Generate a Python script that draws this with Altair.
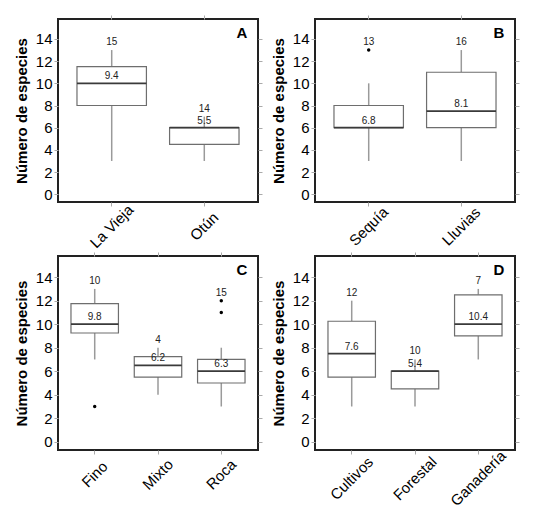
import altair as alt
import pandas as pd

FUENTE = "Liberation Sans"

# Panel A: cuenca
cuenca = ["La Vieja", "Otún"]
cuenca_min = [3, 3]
cuenca_q1 = [8, 4.5]
cuenca_mediana = [10, 6]
cuenca_q3 = [11.5, 6]
cuenca_max = [13, 7]
cuenca_media = [9.4, 5.5]
cuenca_n = [15, 14]
cuenca_atipicos = []

# Panel B: época
epoca = ["Sequía", "Lluvias"]
epoca_min = [3, 3]
epoca_q1 = [6, 6]
epoca_mediana = [6, 7.5]
epoca_q3 = [8, 11]
epoca_max = [10, 13]
epoca_media = [6.8, 8.1]
epoca_n = [13, 16]
epoca_atipicos = [("Sequía", 13)]

# Panel C: sustrato
sustrato = ["Fino", "Mixto", "Roca"]
sustrato_min = [7, 4, 3]
sustrato_q1 = [9.25, 5.5, 5]
sustrato_mediana = [10, 6.5, 6]
sustrato_q3 = [11.75, 7.25, 7]
sustrato_max = [13, 8, 8]
sustrato_media = [9.8, 6.2, 6.3]
sustrato_n = [10, 4, 15]
sustrato_atipicos = [("Fino", 3), ("Roca", 11), ("Roca", 12)]

# Panel D: uso del suelo
uso = ["Cultivos", "Forestal", "Ganadería"]
uso_min = [3, 3, 7]
uso_q1 = [5.5, 4.5, 9]
uso_mediana = [7.5, 6, 10]
uso_q3 = [10.25, 6, 12.5]
uso_max = [12, 7, 13]
uso_media = [7.6, 5.4, 10.4]
uso_n = [12, 10, 7]
uso_atipicos = []

y_ticks = [0, 2, 4, 6, 8, 10, 12, 14]


def panel(grupos, vmin, q1, med, q3, vmax, media, n, atipicos, letra, ancho, alto, pad_etiq):
    # posición del número de casos: encima del bigote o del atípico más alto
    tope = [max([v] + [o for g, o in atipicos if g == gr]) for gr, v in zip(grupos, vmax)]
    df = pd.DataFrame({
        "grupo": grupos, "min": vmin, "q1": q1, "mediana": med, "q3": q3,
        "max": vmax, "media": [f"{m:.1f}" for m in media], "n": n, "tope": tope,
    })
    df_atip = pd.DataFrame({"grupo": [g for g, _ in atipicos], "valor": [v for _, v in atipicos]})

    escala_x = alt.Scale(type="band", domain=grupos, paddingInner=0, paddingOuter=0.08)
    escala_y = alt.Scale(domain=[-0.7, 15.8], nice=False, zero=False)

    eje_x = alt.Axis(title=None, labelAngle=-45, labelAlign="center", labelBaseline="middle",
                     labelPadding=pad_etiq, domain=False, grid=False)
    eje_y = alt.Axis(title="Número de especies", values=y_ticks, domain=False, grid=False)
    eje_x_sup = alt.Axis(orient="top", title=None, labels=False, domain=False, grid=False)
    eje_y_der = alt.Axis(orient="right", title=None, labels=False, values=y_ticks,
                         domain=False, grid=False)

    base = alt.Chart(df)

    bigote_inf = base.mark_rule(color="#9a9a9a", strokeWidth=1.5).encode(
        x=alt.X("grupo:N", scale=escala_x, axis=eje_x),
        y=alt.Y("min:Q", scale=escala_y, axis=eje_y),
        y2="q1:Q",
    )
    bigote_sup = base.mark_rule(color="#9a9a9a", strokeWidth=1.5).encode(
        x=alt.X("grupo:N", scale=escala_x, axis=None),
        y=alt.Y("q3:Q", scale=escala_y, axis=None),
        y2="max:Q",
    )
    caja = base.mark_bar(width=alt.RelativeBandSize(0.75), fill="white",
                         stroke="#6e6e6e", strokeWidth=1.2).encode(
        x=alt.X("grupo:N", scale=escala_x, axis=eje_x_sup),
        y=alt.Y("q1:Q", scale=escala_y, axis=eje_y_der),
        y2="q3:Q",
    )
    mediana = base.mark_bar(width=alt.RelativeBandSize(0.75), fill="white", fillOpacity=0,
                            stroke="#3a3a3a", strokeWidth=1.8).encode(
        x=alt.X("grupo:N", scale=escala_x, axis=None),
        y=alt.Y("mediana:Q", scale=escala_y, axis=None),
        y2="mediana:Q",
    )
    txt_media = base.mark_text(fontSize=10, font=FUENTE, color="#222", baseline="bottom", dy=-2).encode(
        x=alt.X("grupo:N", scale=escala_x, axis=None),
        y=alt.Y("mediana:Q", scale=escala_y, axis=None),
        text="media:N",
    )
    txt_n = base.mark_text(fontSize=10, font=FUENTE, color="#222", baseline="bottom", dy=-3).encode(
        x=alt.X("grupo:N", scale=escala_x, axis=None),
        y=alt.Y("tope:Q", scale=escala_y, axis=None),
        text="n:Q",
    )
    capas = [bigote_inf, bigote_sup, caja, mediana, txt_media, txt_n]

    if len(df_atip):
        puntos = alt.Chart(df_atip).mark_circle(size=12, color="black", opacity=1).encode(
            x=alt.X("grupo:N", scale=escala_x, axis=None),
            y=alt.Y("valor:Q", scale=escala_y, axis=None),
        )
        capas.append(puntos)

    df_letra = pd.DataFrame({"letra": [letra]})
    etiqueta = alt.Chart(df_letra).mark_text(fontSize=15, fontWeight="bold", font=FUENTE,
                                             color="black", align="center", baseline="middle").encode(
        x=alt.value(ancho - 16), y=alt.value(14), text="letra:N",
    )
    capas.append(etiqueta)

    return alt.layer(*capas).resolve_axis(x="independent", y="independent").properties(
        width=ancho, height=alto
    )


panel_a = panel(cuenca, cuenca_min, cuenca_q1, cuenca_mediana, cuenca_q3, cuenca_max,
                cuenca_media, cuenca_n, cuenca_atipicos, "A", 200, 183, 20)
panel_b = panel(epoca, epoca_min, epoca_q1, epoca_mediana, epoca_q3, epoca_max,
                epoca_media, epoca_n, epoca_atipicos, "B", 200, 183, 20)
panel_c = panel(sustrato, sustrato_min, sustrato_q1, sustrato_mediana, sustrato_q3, sustrato_max,
                sustrato_media, sustrato_n, sustrato_atipicos, "C", 200, 194, 20)
panel_d = panel(uso, uso_min, uso_q1, uso_mediana, uso_q3, uso_max,
                uso_media, uso_n, uso_atipicos, "D", 200, 194, 24)

chart = alt.vconcat(
    alt.hconcat(panel_a, panel_b, spacing=6),
    alt.hconcat(panel_c, panel_d, spacing=6),
    spacing=-2,
).configure_view(
    stroke="#222", strokeWidth=2
).configure_axis(
    labelFont=FUENTE, labelFontSize=15, labelColor="black",
    titleFont=FUENTE, titleFontSize=15, titleFontWeight="bold", titleColor="black",
    tickColor="#aaaaaa", tickSize=4, tickWidth=1, labelPadding=2, titlePadding=6,
).configure_axisBottom(
    labelFontSize=15
).properties(background="white")

chart.save("out.html", embed_options={"renderer": "svg", "actions": False})
